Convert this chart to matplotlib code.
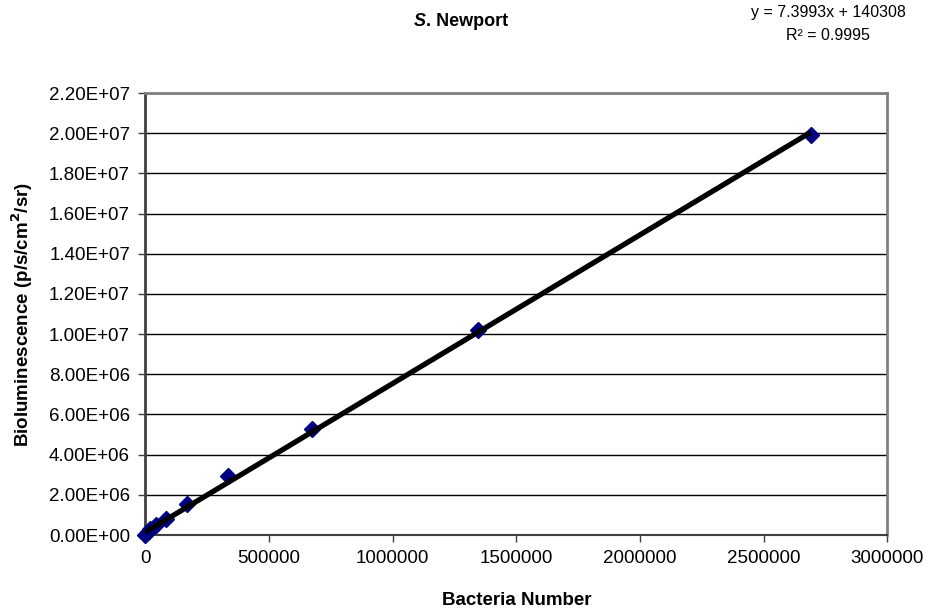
import matplotlib
matplotlib.use("Agg")
import matplotlib.pyplot as plt
from matplotlib.ticker import FuncFormatter, MultipleLocator
import numpy as np

plt.rcParams['font.family'] = ['Liberation Sans', 'DejaVu Sans']

# Two-fold dilution series: bacteria count vs. measured bioluminescence
bacteria = [0, 10500, 21000, 42000, 84000, 168000, 336000, 672000, 1344000, 2690000]
signal = [0.0, 1.6e5, 3.0e5, 5.0e5, 8.0e5, 1.52e6, 2.92e6, 5.30e6, 1.022e7, 1.99e7]

# Linear trendline reported on the chart
slope = 7.3993
intercept = 140308
r_squared = 0.9995

x_ticks = [0, 500000, 1000000, 1500000, 2000000, 2500000, 3000000]

fig = plt.figure(figsize=(9.35, 6.13), dpi=100)
W, H = 935, 613
ax = fig.add_axes([145.3 / W, (H - 535) / H, 742 / W, 442 / H])

ax.set_xlim(0, 3000000)
ax.set_ylim(0, 2.2e7)

ax.yaxis.set_major_locator(MultipleLocator(2e6))
ax.set_xticks(x_ticks)
ax.set_xticklabels([str(t) for t in x_ticks])
ax.yaxis.set_major_formatter(FuncFormatter(lambda v, p: f"{v:.2E}"))

ax.grid(axis='y', color='black', linewidth=1.0)
ax.set_axisbelow(True)

for side in ('top', 'right'):
    ax.spines[side].set_color('#808080')
    ax.spines[side].set_linewidth(2.0)
ax.spines['left'].set_color('#404040')
ax.spines['left'].set_linewidth(2.0)
ax.spines['bottom'].set_color('#404040')
ax.spines['bottom'].set_linewidth(1.5)

ax.tick_params(axis='both', direction='out', length=5, width=1, color='#404040',
               labelsize=13.5, pad=6)

ax.plot(bacteria, signal, linestyle='none', marker='D', markersize=8,
        color='#000080', zorder=3, clip_on=False)

x_fit = np.array([min(bacteria), max(bacteria)])
ax.plot(x_fit, slope * x_fit + intercept, color='black', linewidth=3.8,
        solid_capstyle='butt', zorder=4)

ax.set_xlabel('Bacteria Number', fontsize=13.5, fontweight='bold', labelpad=18)
ax.set_ylabel('Bioluminescence (p/s/cm$^\\mathbf{2}$/sr)', fontsize=13.5,
              fontweight='bold', labelpad=10)

# Title with italic genus initial
t1 = fig.text(0, 0, 'S', fontsize=13, fontweight='bold', fontstyle='italic')
t2 = fig.text(0, 0, '. Newport', fontsize=13, fontweight='bold')
renderer = fig.canvas.get_renderer()
w1 = t1.get_window_extent(renderer).width
w2 = t2.get_window_extent(renderer).width
x0 = 461 - (w1 + w2) / 2
t1.set_position((x0 / W, 1 - 26 / H))
t2.set_position(((x0 + w1) / W, 1 - 26 / H))

fig.text(828 / W, 1 - 13 / H, f'y = {slope}x + {intercept}', fontsize=11.5,
         ha='center', va='center')
fig.text(828 / W, 1 - 35 / H, f'R² = {r_squared}', fontsize=11.5,
         ha='center', va='center')

fig.savefig('out.png', dpi=100)
